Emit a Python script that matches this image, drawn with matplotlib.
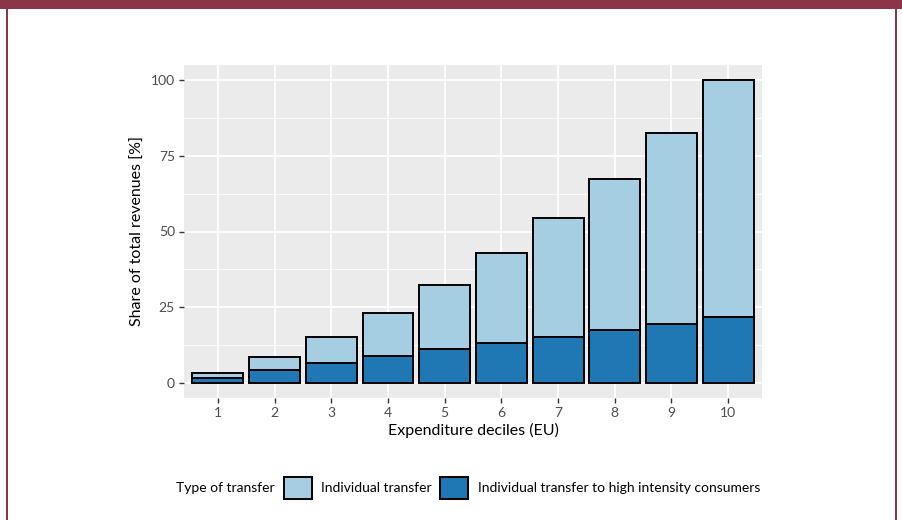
import matplotlib.pyplot as plt
from matplotlib.patches import Patch, Rectangle
import numpy as np

# =========================
# DATA
# =========================
deciles = [1, 2, 3, 4, 5, 6, 7, 8, 9, 10]
total = [3.2, 8.7, 15.3, 23.2, 32.3, 42.9, 54.5, 67.3, 82.5, 100.0]
high_intensity = [1.5, 4.1, 6.5, 9.0, 11.1, 13.3, 15.3, 17.3, 19.6, 21.6]
individual = [t - h for t, h in zip(total, high_intensity)]

y_ticks = [0, 25, 50, 75, 100]

light = "#a6cee3"
dark = "#1f78b4"
maroon = "#8b3548"

plt.rcParams["font.family"] = ["Lato", "DejaVu Sans"]

# =========================
# PLOT
# =========================
fig = plt.figure(figsize=(9.03, 5.2), dpi=100)
fig.patch.set_facecolor("white")

# frame
fig.add_artist(Rectangle((0, 1 - 9 / 520), 1, 9 / 520, transform=fig.transFigure,
                         facecolor=maroon, edgecolor="none"))
fig.add_artist(Rectangle((6 / 903, 0), 2 / 903, 1, transform=fig.transFigure,
                         facecolor=maroon, edgecolor="none"))
fig.add_artist(Rectangle((895 / 903, 0), 2 / 903, 1, transform=fig.transFigure,
                         facecolor=maroon, edgecolor="none"))

ax = fig.add_axes([184 / 903, 122 / 520, 578 / 903, 333 / 520])
ax.set_facecolor("#ebebeb")

ax.bar(deciles, high_intensity, width=0.9, color=dark, edgecolor="black",
       linewidth=1.4, zorder=3)
ax.bar(deciles, individual, bottom=high_intensity, width=0.9, color=light,
       edgecolor="black", linewidth=1.4, zorder=3)

ax.set_xlim(0.4, 10.6)
ax.set_ylim(-5, 105)
ax.set_xticks(deciles)
ax.set_yticks(y_ticks)
ax.set_yticks([12.5, 37.5, 62.5, 87.5], minor=True)
ax.grid(which="major", color="white", linewidth=1.3, zorder=0)
ax.grid(which="minor", axis="y", color="white", linewidth=0.6, zorder=0)
ax.tick_params(which="minor", length=0)
ax.tick_params(which="major", length=3.5, width=1, color="#333333",
               labelcolor="#4d4d4d", labelsize=10, pad=3)
for s in ax.spines.values():
    s.set_visible(False)

ax.set_xlabel("Expenditure deciles (EU)", fontsize=11.5, labelpad=3)
ax.set_ylabel("Share of total revenues [%]", fontsize=11.5, labelpad=4)

# legend
handles = [Patch(facecolor=light, edgecolor="black", linewidth=1.4),
           Patch(facecolor=dark, edgecolor="black", linewidth=1.4)]
fig.text(275 / 903, 1 - 488 / 520, "Type of transfer", fontsize=10,
         va="center", ha="right")
fig.legend(handles, ["Individual transfer", "Individual transfer to high intensity consumers"],
           loc="center left", bbox_to_anchor=(284 / 903, 1 - 488 / 520),
           ncol=2, frameon=False, fontsize=10, handlelength=2.0,
           handleheight=2.1, handletextpad=0.7, columnspacing=0.6,
           borderaxespad=0, borderpad=0)

plt.savefig("out.png", dpi=100)
